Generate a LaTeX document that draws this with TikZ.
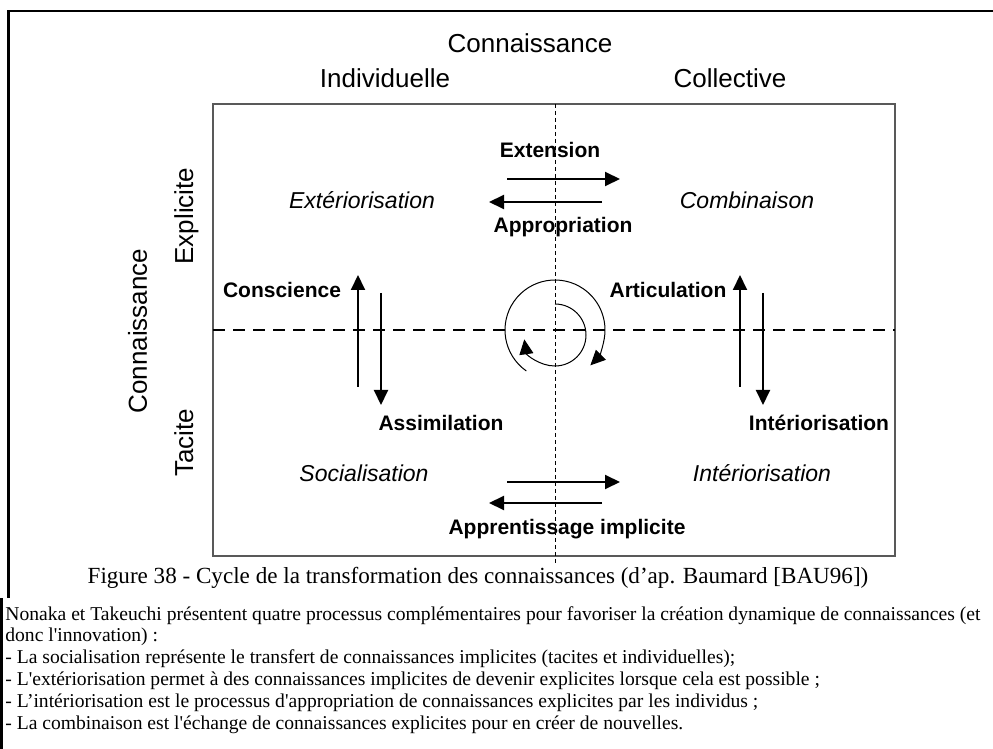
\documentclass[tikz,border=0pt]{standalone}
\usepackage{fontspec}
\setmainfont{Liberation Serif}[Ligatures=TeXOff]
\setsansfont{Liberation Sans}
\usetikzlibrary{arrows.meta}
\tikzset{
  head/.style={font=\sffamily\fontsize{13}{15}\selectfont,anchor=base,inner sep=0pt},
  vhead/.style={head,rotate=90},
  proc/.style={font=\sffamily\itshape\fontsize{11.5}{13}\selectfont,anchor=base,inner sep=0pt},
  mode/.style={font=\sffamily\bfseries\fontsize{10.5}{12}\selectfont,anchor=base,inner sep=0pt},
  capt/.style={font=\fontsize{11.55}{13}\selectfont,anchor=base,inner sep=0pt},
  body/.style={font=\fontsize{9.8}{11}\selectfont,anchor=base west,inner sep=0pt},
  flow/.style={-{Triangle[length=7.5pt,width=7pt]},line width=1pt},
  turn/.style={-{Triangle[length=7.5pt,width=7pt]},line width=0.5pt},
  grid/.style={draw=black!65,line width=0.6pt},
  frame/.style={line width=1.3pt},
  hsplit/.style={dash pattern=on 6pt off 4pt,line width=1pt},
  vsplit/.style={dash pattern=on 2pt off 1.5pt,line width=0.5pt}}

\begin{document}
\begin{tikzpicture}[x=0.5pt,y=-0.5pt]
  \clip (0,0) rectangle (993,749);
  % outer frame
  \draw[frame] (993,11) -- (8.5,11) -- (8.5,598);
  \draw[frame] (1.5,598) -- (1.5,749);
  % quadrant grid
  \draw[grid] (213,104) rectangle (895,556);
  \draw[hsplit] (213,330) -- (895,330);
  \draw[vsplit] (555,104) -- (555,566);
  % axis titles
  \node[head] (conn) at (530,53) {Connaissance};
  \node[head] (indiv) at (385,88) {Individuelle};
  \node[head] (coll) at (730,88) {Collective};
  \node[vhead] (connv) at (147,331) {Connaissance};
  \node[vhead] (expl) at (193,216) {Explicite};
  \node[vhead] (tac) at (193,443) {Tacite};
  % quadrants
  \node[proc] (exter) at (362,209) {Extériorisation};
  \node[proc] (combi) at (747,209) {Combinaison};
  \node[proc] (social) at (364,481) {Socialisation};
  \node[proc] (inter) at (762,481) {Intériorisation};
  % transitions
  \node[mode] (ext) at (550,158) {Extension};
  \node[mode] (appr) at (563,233) {Appropriation};
  \node[mode] (consc) at (282,298) {Conscience};
  \node[mode] (artic) at (668,298) {Articulation};
  \node[mode] (assim) at (441,430) {Assimilation};
  \node[mode] (interb) at (819,430) {Intériorisation};
  \node[mode] (implic) at (567,535) {Apprentissage implicite};
  % arrow ends
  \coordinate (ta) at (507,179); \coordinate (tb) at (620,179);
  \coordinate (tc) at (602,202); \coordinate (td) at (489,202);
  \coordinate (ba) at (507,482); \coordinate (bb) at (620,482);
  \coordinate (bc) at (602,503); \coordinate (bd) at (489,503);
  \coordinate (la) at (358,387); \coordinate (lb) at (358,275);
  \coordinate (lc) at (381,293); \coordinate (ld) at (381,405);
  \coordinate (ra) at (740,387); \coordinate (rb) at (740,275);
  \coordinate (rc) at (763,293); \coordinate (rd) at (763,405);
  \draw[flow] (ta) -- (tb); \draw[flow] (tc) -- (td);
  \draw[flow] (ba) -- (bb); \draw[flow] (bc) -- (bd);
  \draw[flow] (la) -- (lb); \draw[flow] (lc) -- (ld);
  \draw[flow] (ra) -- (rb); \draw[flow] (rc) -- (rd);
  % spiral
  \coordinate (hub) at (555,330);
  \coordinate (hubin) at (555,335);
  \draw[turn] (hub) ++(125:50) arc[start angle=125,end angle=405,radius=50];
  \draw[turn] (hubin) ++(-90:31) arc[start angle=-90,end angle=172,radius=31];
  % caption and text
  \node[capt] (cap) at (478,583) {Figure 38 - Cycle de la transformation des connaissances (d’ap. Baumard [BAU96])};
  \node[body] (l1) at (5,620) {Nonaka et Takeuchi présentent quatre processus complémentaires pour favoriser la création dynamique de connaissances (et};
  \node[body] (l2) at (5,641.5) {donc l'innovation) :};
  \node[body] (l3) at (5,663) {- La socialisation représente le transfert de connaissances implicites (tacites et individuelles);};
  \node[body] (l4) at (5,685) {- L'extériorisation permet à des connaissances implicites de devenir explicites lorsque cela est possible ;};
  \node[body] (l5) at (5,707) {- L’intériorisation est le processus d'appropriation de connaissances explicites par les individus ;};
  \node[body] (l6) at (5,729) {- La combinaison est l'échange de connaissances explicites pour en créer de nouvelles.};
\end{tikzpicture}
\end{document}
